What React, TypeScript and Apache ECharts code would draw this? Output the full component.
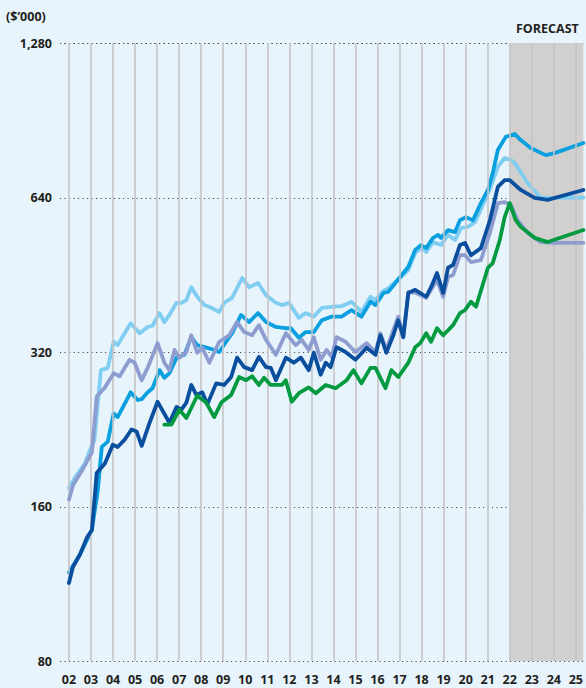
import React, { useEffect, useRef } from "react";
import * as echarts from "echarts";

// x: decimal year, y: price ($'000)
const yearTicks = [2002, 2003, 2004, 2005, 2006, 2007, 2008, 2009, 2010, 2011, 2012, 2013, 2014, 2015, 2016, 2017, 2018, 2019, 2020, 2021, 2022, 2023, 2024, 2025];
const priceTicks = [80, 160, 320, 640, 1280];
const forecastStart = 2022;
const forecastEnd = 2025.34;

const lightBlue: [number, number][] = [
  [2002.0, 174], [2002.27, 182], [2002.72, 194], [2002.95, 206], [2003.15, 215], [2003.45, 295], [2003.76, 298],
  [2004.03, 335], [2004.21, 330], [2004.8, 364], [2005.21, 348], [2005.57, 358], [2005.79, 360],
  [2006.11, 381], [2006.33, 366], [2006.56, 378], [2006.88, 399], [2007.1, 399], [2007.33, 404],
  [2007.55, 428], [2007.82, 410], [2008.14, 395], [2008.37, 392], [2008.82, 383], [2009.04, 399],
  [2009.4, 408], [2009.86, 446], [2010.17, 428], [2010.58, 436], [2010.94, 413], [2011.39, 399],
  [2011.66, 395], [2011.98, 399], [2012.43, 373], [2012.74, 381], [2013.11, 375], [2013.47, 390],
  [2013.92, 392], [2014.37, 393], [2014.82, 401], [2015.27, 383], [2015.68, 410], [2015.91, 404],
  [2016.27, 421], [2016.49, 426], [2016.81, 438], [2017.4, 462], [2017.71, 499], [2017.98, 510],
  [2018.21, 501], [2018.52, 524], [2018.88, 517], [2019.2, 541], [2019.52, 529], [2019.79, 558],
  [2020.1, 561], [2020.42, 573], [2020.78, 619], [2021.14, 671], [2021.46, 734], [2021.77, 764],
  [2022.05, 757], [2022.23, 747], [2022.81, 683], [2023.4, 640], [2024.03, 639], [2025.34, 640],
];

const mediumBlue: [number, number][] = [
  [2002.0, 119], [2002.5, 129], [2003.04, 144], [2003.31, 172], [2003.49, 209], [2003.76, 214],
  [2004.03, 243], [2004.21, 239], [2004.8, 267], [2005.12, 258], [2005.3, 259], [2005.57, 267],
  [2005.79, 272], [2006.11, 295], [2006.33, 285], [2006.56, 291], [2006.88, 312], [2007.24, 316],
  [2007.55, 342], [2007.82, 330], [2008.28, 326], [2008.59, 323], [2008.82, 320], [2009.13, 335],
  [2009.4, 348], [2009.81, 378], [2010.17, 366], [2010.58, 381], [2010.94, 366], [2011.39, 358],
  [2011.84, 356], [2012.07, 356], [2012.43, 341], [2012.74, 350], [2013.11, 350], [2013.47, 369],
  [2013.92, 375], [2014.37, 375], [2014.82, 386], [2015.27, 375], [2015.68, 401], [2015.91, 395],
  [2016.27, 417], [2016.49, 419], [2016.81, 436], [2017.4, 469], [2017.71, 506], [2017.98, 517],
  [2018.21, 510], [2018.52, 534], [2018.75, 541], [2018.88, 534], [2019.2, 553], [2019.52, 548],
  [2019.74, 578], [2020.01, 586], [2020.33, 578], [2020.69, 624], [2021.01, 662], [2021.23, 714],
  [2021.46, 792], [2021.82, 840], [2022.23, 851], [2022.5, 828], [2022.95, 799], [2023.63, 774],
  [2024.03, 781], [2025.34, 817],
];

const darkBlue: [number, number][] = [
  [2002.0, 113.5], [2002.18, 122], [2002.5, 129], [2002.81, 139], [2003.04, 144], [2003.26, 186],
  [2003.63, 194], [2003.99, 211], [2004.21, 209], [2004.53, 216], [2004.84, 226], [2005.07, 224],
  [2005.3, 210], [2005.66, 233], [2006.02, 256], [2006.56, 233], [2006.88, 250], [2007.1, 247],
  [2007.33, 255], [2007.55, 276], [2007.78, 264], [2008.05, 267], [2008.28, 253], [2008.68, 278],
  [2009.04, 276], [2009.36, 286], [2009.63, 312], [2009.95, 299], [2010.31, 295], [2010.62, 313],
  [2010.94, 299], [2011.16, 298], [2011.39, 282], [2011.84, 312], [2012.2, 305], [2012.52, 312],
  [2012.88, 295], [2013.11, 319], [2013.42, 289], [2013.65, 305], [2013.87, 299], [2014.14, 327],
  [2014.55, 320], [2015.0, 309], [2015.5, 326], [2015.91, 316], [2016.13, 345], [2016.4, 319],
  [2016.72, 345], [2016.94, 369], [2017.17, 342], [2017.4, 417], [2017.71, 423], [2018.21, 410],
  [2018.43, 428], [2018.7, 456], [2018.98, 417], [2019.2, 467], [2019.43, 473], [2019.74, 517],
  [2019.97, 522], [2020.24, 494], [2020.69, 510], [2021.1, 578], [2021.46, 671], [2021.77, 692],
  [2022.0, 692], [2022.5, 662], [2023.13, 639], [2023.72, 633], [2025.34, 662],
];

const lavender: [number, number][] = [
  [2002.0, 165], [2002.18, 176], [2002.59, 188], [2003.04, 204], [2003.26, 262], [2003.63, 273],
  [2004.03, 291], [2004.3, 287], [2004.75, 309], [2004.98, 305], [2005.3, 282], [2005.57, 298],
  [2006.02, 333], [2006.33, 305], [2006.56, 295], [2006.79, 323], [2007.01, 312], [2007.33, 320],
  [2007.55, 345], [2007.82, 319], [2008.05, 326], [2008.37, 305], [2008.82, 335], [2009.27, 345],
  [2009.63, 366], [2009.95, 350], [2010.31, 345], [2010.62, 361], [2010.94, 338], [2011.39, 316],
  [2011.84, 348], [2012.29, 330], [2012.56, 338], [2012.88, 323], [2013.11, 342], [2013.42, 309],
  [2013.69, 323], [2013.92, 313], [2014.14, 342], [2014.55, 335], [2015.0, 320], [2015.5, 333],
  [2015.91, 320], [2016.13, 348], [2016.4, 323], [2016.72, 353], [2016.94, 375], [2017.17, 342],
  [2017.4, 419], [2017.76, 417], [2018.21, 408], [2018.43, 423], [2018.7, 442], [2018.98, 410],
  [2019.2, 448], [2019.43, 452], [2019.74, 494], [2019.97, 494], [2020.24, 479], [2020.69, 483],
  [2021.1, 546], [2021.46, 624], [2021.77, 627], [2022.05, 619], [2022.36, 578], [2022.81, 546],
  [2023.4, 524], [2024.03, 522], [2025.34, 522],
];

const green: [number, number][] = [
  [2006.33, 231], [2006.65, 231], [2007.01, 247], [2007.33, 238], [2007.82, 263], [2008.23, 255],
  [2008.59, 239], [2008.91, 255], [2009.36, 264], [2009.72, 286], [2010.04, 282], [2010.31, 287],
  [2010.62, 276], [2010.85, 285], [2011.16, 276], [2011.66, 276], [2011.84, 282], [2012.11, 256],
  [2012.43, 266], [2012.88, 273], [2013.2, 266], [2013.65, 276], [2014.1, 272], [2014.6, 282],
  [2014.91, 295], [2015.27, 278], [2015.68, 298], [2015.91, 298], [2016.36, 272], [2016.63, 295],
  [2016.94, 286], [2017.4, 305], [2017.71, 327], [2017.94, 333], [2018.21, 348], [2018.43, 335],
  [2018.7, 356], [2018.98, 345], [2019.43, 361], [2019.74, 381], [2019.97, 386], [2020.24, 401],
  [2020.47, 392], [2021.01, 467], [2021.23, 477], [2021.55, 529], [2021.77, 586], [2022.0, 624],
  [2022.27, 578], [2022.5, 561], [2023.13, 534], [2023.72, 524], [2025.34, 553],
];

const FONT = '"Open Sans", "DejaVu Sans", sans-serif';
const TEXT = "#231f20";

const nearestTick = (v: number) =>
  priceTicks.reduce((best, t) => (Math.abs(Math.log(t / v)) < Math.abs(Math.log(best / v)) ? t : best), priceTicks[0]);

export default function App() {
  const ref = useRef<HTMLDivElement>(null);
  useEffect(() => {
    const chart = echarts.init(ref.current as HTMLDivElement, null, { renderer: "svg" });
    const line = (name: string, data: [number, number][], color: string, z: number) => ({
      type: "line",
      name,
      data,
      z,
      symbol: "none",
      showSymbol: false,
      silent: true,
      clip: true,
      lineStyle: { color, width: 3.8, cap: "round", join: "round" },
      itemStyle: { color },
    });
    chart.setOption({
      animation: false,
      backgroundColor: "#e8f4fc",
      textStyle: { fontFamily: FONT },
      grid: { left: 60, right: 0, top: 43, bottom: 27, containLabel: false },
      xAxis: {
        type: "value",
        min: 2001.594,
        max: forecastEnd,
        axisLine: { show: false },
        axisTick: { show: false },
        splitLine: { show: false },
        axisLabel: {
          customValues: yearTicks,
          formatter: (v: number) => String(Math.round(v)).slice(2),
          fontSize: 12.5,
          fontWeight: "bold",
          color: TEXT,
          fontFamily: FONT,
          margin: 12,
        },
      },
      yAxis: {
        type: "log",
        logBase: 2,
        min: priceTicks[0],
        max: priceTicks[priceTicks.length - 1],
        interval: 1,
        axisLine: { show: false },
        axisTick: { show: false },
        splitLine: { show: true, lineStyle: { color: "#4a4a4a", width: 1.2, type: [1.2, 3.3] } },
        axisLabel: {
          formatter: (v: number) => nearestTick(v).toLocaleString("en-US"),
          fontSize: 12.5,
          fontWeight: "bold",
          color: TEXT,
          fontFamily: FONT,
          margin: 8,
        },
      },
      graphic: [
        { type: "text", left: 6, top: 10, style: { text: "($’000)", font: `bold 12.5px ${FONT}`, fill: TEXT } },
        { type: "text", left: 516, top: 22, style: { text: "FORECAST", font: `bold 12.5px ${FONT}`, fill: TEXT } },
      ],
      series: [
        {
          type: "line",
          data: [[forecastStart, 80]],
          symbol: "none",
          silent: true,
          z: -3,
          lineStyle: { opacity: 0 },
          markArea: {
            silent: true,
            itemStyle: { color: "#d2d0cf" },
            data: [[{ xAxis: forecastStart }, { xAxis: forecastEnd }]],
          },
        },
        {
          type: "line",
          data: [[forecastStart, 80]],
          symbol: "none",
          silent: true,
          z: -2,
          lineStyle: { opacity: 0 },
          markLine: {
            silent: true,
            symbol: ["none", "none"],
            label: { show: false },
            lineStyle: { color: "#c4c4c6", width: 1.6, type: "solid" },
            data: yearTicks.map((y) => ({ xAxis: y })),
          },
        },
        line("Light blue", lightBlue, "#80cdf2", 3),
        line("Medium blue", mediumBlue, "#0aa0e0", 4),
        line("Lavender", lavender, "#8e9dd0", 5),
        line("Dark blue", darkBlue, "#0a4e9e", 6),
        line("Green", green, "#049a40", 7),
      ],
    });
    return () => chart.dispose();
  }, []);
  return <div ref={ref} style={{ position: "fixed", left: 0, top: 0, width: 586, height: 688 }} />;
}
